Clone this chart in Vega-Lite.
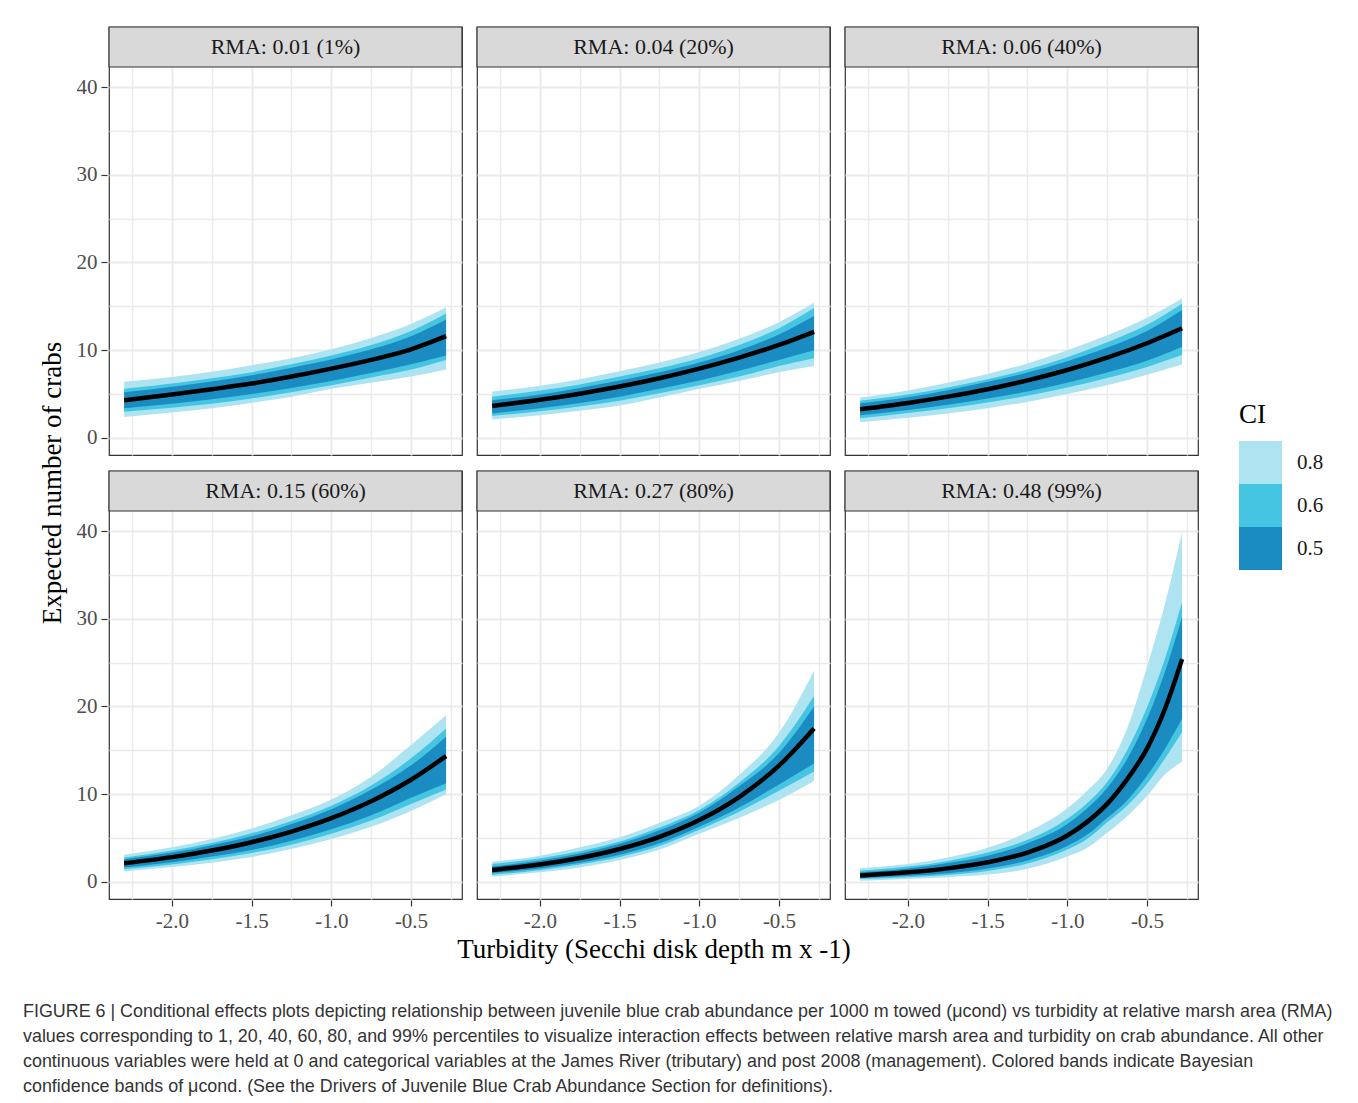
{
  "$schema": "https://vega.github.io/schema/vega-lite/v6.json",
  "padding": {"left": 22, "top": 25, "right": 10, "bottom": 8},
  "background": "white",
  "datasets": {
    "panels": [
      {"p": 1, "r": 1, "c": 1, "label": "RMA: 0.01 (1%)"},
      {"p": 2, "r": 1, "c": 2, "label": "RMA: 0.04 (20%)"},
      {"p": 3, "r": 1, "c": 3, "label": "RMA: 0.06 (40%)"},
      {"p": 4, "r": 2, "c": 1, "label": "RMA: 0.15 (60%)"},
      {"p": 5, "r": 2, "c": 2, "label": "RMA: 0.27 (80%)"},
      {"p": 6, "r": 2, "c": 3, "label": "RMA: 0.48 (99%)"}
    ]
  },
  "data": {"values": [
    {"p":1,"x":-2.3,"m":4.3,"l8":2.4,"h8":6.4,"l6":3.0,"h6":5.6,"l5":3.4,"h5":5.2},
    {"p":1,"x":-2.0,"m":4.95,"l8":2.9,"h8":6.95,"l6":3.45,"h6":6.2,"l5":3.9,"h5":5.85},
    {"p":1,"x":-1.75,"m":5.55,"l8":3.4,"h8":7.55,"l6":3.9,"h6":6.8,"l5":4.4,"h5":6.45},
    {"p":1,"x":-1.5,"m":6.2,"l8":4.0,"h8":8.3,"l6":4.5,"h6":7.5,"l5":5.0,"h5":7.15},
    {"p":1,"x":-1.25,"m":7.0,"l8":4.7,"h8":9.1,"l6":5.2,"h6":8.4,"l5":5.7,"h5":8.0},
    {"p":1,"x":-1.0,"m":7.9,"l8":5.6,"h8":10.1,"l6":6.0,"h6":9.4,"l5":6.5,"h5":8.95},
    {"p":1,"x":-0.75,"m":8.9,"l8":6.3,"h8":11.4,"l6":6.9,"h6":10.6,"l5":7.4,"h5":10.1},
    {"p":1,"x":-0.5,"m":10.1,"l8":7.0,"h8":13.0,"l6":7.8,"h6":12.2,"l5":8.4,"h5":11.6},
    {"p":1,"x":-0.28,"m":11.6,"l8":7.8,"h8":14.9,"l6":8.9,"h6":14.2,"l5":9.4,"h5":13.5},
    {"p":2,"x":-2.3,"m":3.65,"l8":2.1,"h8":5.3,"l6":2.5,"h6":4.7,"l5":2.8,"h5":4.3},
    {"p":2,"x":-2.0,"m":4.35,"l8":2.6,"h8":5.95,"l6":3.05,"h6":5.4,"l5":3.4,"h5":4.95},
    {"p":2,"x":-1.75,"m":5.05,"l8":3.1,"h8":6.7,"l6":3.6,"h6":6.1,"l5":4.0,"h5":5.7},
    {"p":2,"x":-1.5,"m":5.86,"l8":3.7,"h8":7.6,"l6":4.25,"h6":7.0,"l5":4.7,"h5":6.55},
    {"p":2,"x":-1.25,"m":6.8,"l8":4.6,"h8":8.6,"l6":5.1,"h6":7.95,"l5":5.6,"h5":7.5},
    {"p":2,"x":-1.0,"m":7.9,"l8":5.6,"h8":9.8,"l6":6.0,"h6":9.1,"l5":6.55,"h5":8.6},
    {"p":2,"x":-0.75,"m":9.16,"l8":6.5,"h8":11.3,"l6":7.0,"h6":10.6,"l5":7.65,"h5":10.0},
    {"p":2,"x":-0.5,"m":10.6,"l8":7.5,"h8":13.2,"l6":8.2,"h6":12.5,"l5":8.9,"h5":11.8},
    {"p":2,"x":-0.28,"m":12.1,"l8":8.2,"h8":15.4,"l6":9.1,"h6":14.8,"l5":10.0,"h5":13.9},
    {"p":3,"x":-2.3,"m":3.27,"l8":1.8,"h8":4.6,"l6":2.25,"h6":4.25,"l5":2.6,"h5":3.95},
    {"p":3,"x":-2.0,"m":3.99,"l8":2.3,"h8":5.4,"l6":2.85,"h6":4.95,"l5":3.2,"h5":4.65},
    {"p":3,"x":-1.75,"m":4.71,"l8":2.8,"h8":6.3,"l6":3.4,"h6":5.75,"l5":3.8,"h5":5.45},
    {"p":3,"x":-1.5,"m":5.56,"l8":3.4,"h8":7.3,"l6":4.05,"h6":6.7,"l5":4.5,"h5":6.4},
    {"p":3,"x":-1.25,"m":6.57,"l8":4.1,"h8":8.5,"l6":4.8,"h6":7.8,"l5":5.3,"h5":7.45},
    {"p":3,"x":-1.0,"m":7.75,"l8":5.0,"h8":10.0,"l6":5.75,"h6":9.2,"l5":6.3,"h5":8.75},
    {"p":3,"x":-0.75,"m":9.15,"l8":6.0,"h8":11.7,"l6":6.85,"h6":10.9,"l5":7.45,"h5":10.3},
    {"p":3,"x":-0.5,"m":10.8,"l8":7.2,"h8":13.7,"l6":8.1,"h6":12.9,"l5":8.8,"h5":12.2},
    {"p":3,"x":-0.28,"m":12.5,"l8":8.4,"h8":15.9,"l6":9.45,"h6":15.3,"l5":10.4,"h5":14.6},
    {"p":4,"x":-2.3,"m":2.13,"l8":1.2,"h8":3.1,"l6":1.45,"h6":2.8,"l5":1.65,"h5":2.6},
    {"p":4,"x":-2.0,"m":2.83,"l8":1.7,"h8":3.95,"l6":2.0,"h6":3.6,"l5":2.25,"h5":3.35},
    {"p":4,"x":-1.75,"m":3.58,"l8":2.2,"h8":4.9,"l6":2.6,"h6":4.45,"l5":2.9,"h5":4.2},
    {"p":4,"x":-1.5,"m":4.53,"l8":2.85,"h8":6.1,"l6":3.3,"h6":5.55,"l5":3.65,"h5":5.2},
    {"p":4,"x":-1.25,"m":5.74,"l8":3.75,"h8":7.6,"l6":4.25,"h6":6.95,"l5":4.7,"h5":6.6},
    {"p":4,"x":-1.0,"m":7.27,"l8":4.9,"h8":9.4,"l6":5.5,"h6":8.7,"l5":6.0,"h5":8.3},
    {"p":4,"x":-0.75,"m":9.2,"l8":6.3,"h8":12.0,"l6":7.0,"h6":11.0,"l5":7.6,"h5":10.5},
    {"p":4,"x":-0.5,"m":11.65,"l8":8.1,"h8":15.6,"l6":8.9,"h6":14.1,"l5":9.6,"h5":13.3},
    {"p":4,"x":-0.28,"m":14.35,"l8":10.0,"h8":19.0,"l6":10.55,"h6":17.5,"l5":11.25,"h5":16.55},
    {"p":5,"x":-2.3,"m":1.37,"l8":0.6,"h8":2.3,"l6":0.8,"h6":2.05,"l5":1.0,"h5":1.75},
    {"p":5,"x":-2.0,"m":2.0,"l8":1.1,"h8":3.0,"l6":1.35,"h6":2.7,"l5":1.55,"h5":2.45},
    {"p":5,"x":-1.75,"m":2.74,"l8":1.65,"h8":3.95,"l6":2.0,"h6":3.5,"l5":2.2,"h5":3.25},
    {"p":5,"x":-1.5,"m":3.76,"l8":2.5,"h8":5.1,"l6":2.85,"h6":4.6,"l5":3.1,"h5":4.35},
    {"p":5,"x":-1.25,"m":5.15,"l8":3.7,"h8":6.75,"l6":4.1,"h6":6.2,"l5":4.4,"h5":5.9},
    {"p":5,"x":-1.0,"m":7.06,"l8":5.5,"h8":8.7,"l6":5.95,"h6":8.2,"l5":6.3,"h5":7.9},
    {"p":5,"x":-0.75,"m":9.68,"l8":7.3,"h8":12.2,"l6":8.0,"h6":11.3,"l5":8.5,"h5":10.9},
    {"p":5,"x":-0.5,"m":13.26,"l8":9.35,"h8":17.0,"l6":10.4,"h6":15.5,"l5":11.1,"h5":14.7},
    {"p":5,"x":-0.28,"m":17.5,"l8":11.5,"h8":24.1,"l6":12.6,"h6":21.2,"l5":13.5,"h5":20.0},
    {"p":6,"x":-2.3,"m":0.75,"l8":0.15,"h8":1.6,"l6":0.35,"h6":1.3,"l5":0.45,"h5":1.1},
    {"p":6,"x":-2.0,"m":1.1,"l8":0.35,"h8":2.05,"l6":0.55,"h6":1.75,"l5":0.7,"h5":1.55},
    {"p":6,"x":-1.75,"m":1.55,"l8":0.55,"h8":2.8,"l6":0.8,"h6":2.4,"l5":1.0,"h5":2.15},
    {"p":6,"x":-1.5,"m":2.25,"l8":0.85,"h8":3.9,"l6":1.25,"h6":3.35,"l5":1.55,"h5":3.0},
    {"p":6,"x":-1.25,"m":3.35,"l8":1.5,"h8":5.7,"l6":2.1,"h6":4.8,"l5":2.45,"h5":4.4},
    {"p":6,"x":-1.0,"m":5.3,"l8":2.9,"h8":8.4,"l6":3.7,"h6":7.2,"l5":4.1,"h5":6.6},
    {"p":6,"x":-0.875,"m":6.85,"l8":3.9,"h8":10.4,"l6":4.9,"h6":9.0,"l5":5.4,"h5":8.4},
    {"p":6,"x":-0.75,"m":8.9,"l8":5.6,"h8":12.9,"l6":6.8,"h6":11.4,"l5":7.3,"h5":10.7},
    {"p":6,"x":-0.625,"m":11.7,"l8":7.5,"h8":17.5,"l6":8.7,"h6":15.0,"l5":9.3,"h5":14.0},
    {"p":6,"x":-0.5,"m":15.2,"l8":9.8,"h8":24.5,"l6":11.2,"h6":19.9,"l5":12.1,"h5":18.6},
    {"p":6,"x":-0.39,"m":19.6,"l8":12.2,"h8":31.5,"l6":14.0,"h6":25.3,"l5":15.1,"h5":23.8},
    {"p":6,"x":-0.28,"m":25.4,"l8":13.7,"h8":39.9,"l6":17.1,"h6":31.9,"l5":18.6,"h5":30.2}
  ]},
  "transform": [
    {"lookup": "p", "from": {"data": {"name": "panels"}, "key": "p", "fields": ["r", "c", "label"]}}
  ],
  "facet": {
    "row": {"field": "r", "type": "ordinal", "title": "Expected number of crabs\u2800\u2800",
      "header": {"labels": false, "titleFont": "Liberation Serif", "titleFontSize": 27, "titleFontWeight": "normal", "titleColor": "#000000", "titlePadding": -1}},
    "column": {"field": "c", "type": "ordinal", "title": "Turbidity (Secchi disk depth m x -1)",
      "header": {"labels": false, "titleOrient": "bottom", "titleFont": "Liberation Serif", "titleFontSize": 27, "titleFontWeight": "normal", "titleColor": "#000000", "titlePadding": -4}}
  },
  "spacing": {"row": 13, "column": 11},
  "spec": {
    "width": 353,
    "height": 428,
    "layer": [
      {
        "transform": [{"aggregate": [{"op": "count", "as": "n"}], "groupby": ["label", "r", "c"]}],
        "mark": {"type": "rect", "fill": "#D9D9D9", "stroke": "#333333", "strokeWidth": 1.2},
        "encoding": {
          "y": {"datum": 42.28, "type": "quantitative",
            "scale": {"domain": [-1.94, 46.84], "nice": false, "zero": false},
            "axis": {"title": null, "grid": true, "values": [0, 5, 10, 15, 20, 25, 30, 35, 40],
              "labelExpr": "datum.value % 10 == 0 ? datum.label : ''",
              "tickOpacity": {"condition": {"test": "datum.value % 10 != 0", "value": 0}, "value": 1},
              "gridWidth": {"condition": {"test": "datum.value % 10 != 0", "value": 1.4}, "value": 2}}},
          "y2": {"datum": 46.84}
        }
      },
      {
        "transform": [{"aggregate": [{"op": "count", "as": "n"}], "groupby": ["label", "r", "c"]}],
        "mark": {"type": "text", "font": "Liberation Serif", "fontSize": 22, "color": "#1A1A1A", "baseline": "middle"},
        "encoding": {
          "y": {"datum": 44.56, "type": "quantitative"},
          "text": {"field": "label", "type": "nominal"}
        }
      },
      {
        "mark": {"type": "area", "interpolate": "monotone"},
        "encoding": {
          "x": {"field": "x", "type": "quantitative",
            "scale": {"domain": [-2.395, -0.18], "nice": false, "zero": false},
            "axis": {"title": null, "grid": true, "values": [-2.25, -2, -1.75, -1.5, -1.25, -1, -0.75, -0.5, -0.25],
              "labelExpr": "datum.value % 0.5 == 0 ? replace(format(datum.value, '.1f'), '\u2212', '-') : ''",
              "tickOpacity": {"condition": {"test": "datum.value % 0.5 != 0", "value": 0}, "value": 1},
              "gridWidth": {"condition": {"test": "datum.value % 0.5 != 0", "value": 1.4}, "value": 2}}},
          "y": {"field": "l8", "type": "quantitative"},
          "y2": {"field": "h8"},
          "color": {"datum": "0.8", "type": "nominal", "title": "CI",
            "scale": {"domain": ["0.8", "0.6", "0.5"], "range": ["#AEE4F2", "#45C5E2", "#1A8CC2"]},
            "legend": {"orient": "none", "legendX": 1130, "legendY": 375}}
        }
      },
      {
        "mark": {"type": "area", "interpolate": "monotone"},
        "encoding": {
          "x": {"field": "x", "type": "quantitative"},
          "y": {"field": "l6", "type": "quantitative"},
          "y2": {"field": "h6"},
          "color": {"datum": "0.6", "type": "nominal"}
        }
      },
      {
        "mark": {"type": "area", "interpolate": "monotone"},
        "encoding": {
          "x": {"field": "x", "type": "quantitative"},
          "y": {"field": "l5", "type": "quantitative"},
          "y2": {"field": "h5"},
          "color": {"datum": "0.5", "type": "nominal"}
        }
      },
      {
        "mark": {"type": "line", "interpolate": "monotone", "color": "#000000", "strokeWidth": 4.5},
        "encoding": {
          "x": {"field": "x", "type": "quantitative"},
          "y": {"field": "m", "type": "quantitative"}
        }
      }
    ]
  },
  "title": {
    "text": [
      "FIGURE 6 | Conditional effects plots depicting relationship between juvenile blue crab abundance per 1000 m towed (μcond) vs turbidity at relative marsh area (RMA)",
      "values corresponding to 1, 20, 40, 60, 80, and 99% percentiles to visualize interaction effects between relative marsh area and turbidity on crab abundance. All other",
      "continuous variables were held at 0 and categorical variables at the James River (tributary) and post 2008 (management). Colored bands indicate Bayesian",
      "confidence bands of μcond. (See the Drivers of Juvenile Blue Crab Abundance Section for definitions)."
    ],
    "orient": "bottom", "anchor": "start", "frame": "bounds", "offset": 40, "dx": -16,
    "font": "Liberation Sans", "fontSize": 17.9, "fontWeight": "normal", "color": "#333333", "lineHeight": 25
  },
  "config": {
    "font": "Liberation Serif",
    "view": {"stroke": "#333333", "strokeWidth": 1.2},
    "axis": {"domain": false, "labelFont": "Liberation Serif", "labelFontSize": 21, "labelColor": "#4D4D4D",
      "tickColor": "#333333", "tickSize": 6, "tickWidth": 1.2, "gridColor": "#EBEBEB", "labelPadding": 4},
    "legend": {"titleFont": "Liberation Serif", "titleFontSize": 27, "titleFontWeight": "normal", "titleColor": "#000000",
      "labelFont": "Liberation Serif", "labelFontSize": 21, "labelColor": "#1A1A1A", "symbolType": "square",
      "symbolSize": 1849, "symbolStrokeWidth": 0, "rowPadding": 0, "labelOffset": 15, "titlePadding": 12}
  }
}
